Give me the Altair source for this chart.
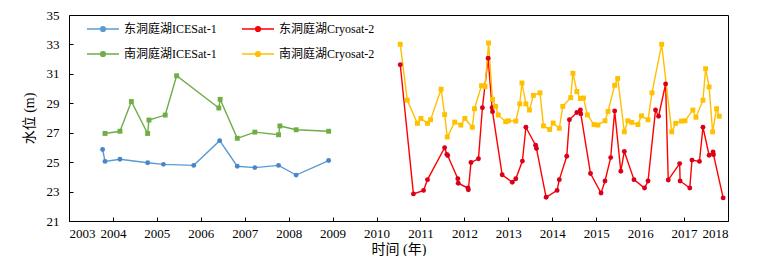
import altair as alt
import pandas as pd

# ---- data (decimal year, water level m) ----
east_ice_t = [2003.765, 2003.82, 2004.16, 2004.79, 2005.15, 2005.84, 2006.43, 2006.83, 2007.23, 2007.77, 2008.17, 2008.91]
east_ice_v = [25.86, 25.05, 25.20, 24.96, 24.85, 24.78, 26.46, 24.72, 24.63, 24.78, 24.12, 25.11]

south_ice_t = [2003.82, 2004.16, 2004.42, 2004.79, 2004.82, 2005.19, 2005.45, 2006.41, 2006.44, 2006.83, 2007.23, 2007.77, 2007.80, 2008.17, 2008.91]
south_ice_v = [26.95, 27.10, 29.12, 26.95, 27.86, 28.20, 30.87, 28.68, 29.27, 26.62, 27.04, 26.86, 27.46, 27.20, 27.10]

east_cs_t = [2010.54, 2010.84, 2011.07, 2011.16, 2011.55, 2011.60, 2011.62, 2011.85, 2011.86, 2012.08, 2012.09,
             2012.15, 2012.32, 2012.41, 2012.54, 2012.63, 2012.64, 2012.86, 2013.09, 2013.17, 2013.32, 2013.40,
             2013.62, 2013.64, 2013.86, 2014.11, 2014.16, 2014.33, 2014.39, 2014.56, 2014.64, 2014.65, 2014.87,
             2015.11, 2015.20, 2015.33, 2015.42, 2015.56, 2015.64, 2015.86, 2016.10, 2016.18, 2016.35, 2016.42,
             2016.58, 2016.64, 2016.90, 2016.91, 2017.13, 2017.18, 2017.35, 2017.43, 2017.57, 2017.66, 2017.67, 2017.89]
east_cs_v = [31.62, 22.84, 23.08, 23.81, 25.98, 25.53, 25.45, 23.87, 23.57, 23.24, 23.12,
             24.98, 25.23, 28.70, 32.06, 28.70, 28.43, 24.14, 23.63, 23.87, 25.07, 27.37,
             26.15, 25.93, 22.61, 23.08, 23.81, 25.40, 27.88, 28.37, 28.54, 28.28, 24.23,
             22.90, 23.72, 25.31, 28.48, 24.38, 25.73, 23.81, 23.24, 23.72, 28.54, 28.12,
             30.31, 23.79, 24.90, 23.72, 23.24, 25.14, 25.05, 27.37, 25.47, 25.69, 25.51, 22.57]

south_cs_t = [2010.54, 2010.70, 2010.93, 2011.01, 2011.16, 2011.23, 2011.47, 2011.55, 2011.61, 2011.78, 2011.92,
              2012.01, 2012.18, 2012.23, 2012.39, 2012.47, 2012.55, 2012.64, 2012.71, 2012.77, 2012.94, 2013.00,
              2013.17, 2013.26, 2013.31, 2013.40, 2013.48, 2013.57, 2013.72, 2013.80, 2013.94, 2014.02, 2014.16,
              2014.24, 2014.42, 2014.47, 2014.56, 2014.64, 2014.71, 2014.80, 2014.95, 2015.04, 2015.20, 2015.27,
              2015.42, 2015.49, 2015.64, 2015.72, 2015.81, 2015.95, 2016.03, 2016.18, 2016.27, 2016.49, 2016.72,
              2016.81, 2016.94, 2017.02, 2017.20, 2017.27, 2017.43, 2017.49, 2017.57, 2017.65, 2017.74, 2017.80]
south_cs_v = [33.01, 29.21, 27.64, 27.97, 27.64, 27.88, 29.96, 28.23, 26.71, 27.72, 27.52,
              27.97, 27.37, 28.63, 30.20, 30.14, 33.10, 29.27, 28.79, 28.21, 27.75, 27.81,
              27.79, 28.96, 30.38, 28.96, 28.54, 29.54, 29.71, 27.46, 27.22, 27.66, 27.30,
              28.79, 29.38, 31.04, 29.80, 29.32, 29.36, 28.21, 27.55, 27.52, 27.81, 28.45,
              30.22, 30.69, 27.06, 27.81, 27.70, 27.55, 28.15, 27.88, 29.71, 33.01, 27.06,
              27.64, 27.79, 27.81, 28.54, 28.05, 29.21, 31.35, 30.11, 27.06, 28.63, 28.12]

# legend is laid out column by column: column 1 = ICESat-1, column 2 = Cryosat-2
series_names = ["东洞庭湖ICESat-1", "南洞庭湖ICESat-1", "东洞庭湖Cryosat-2", "南洞庭湖Cryosat-2"]
line_colors = ["#5B9BD5", "#70AD47", "#FF0000", "#FFC000"]
point_colors = ["#4A86C5", "#70AD47", "#D9001B", "#FFC000"]
point_shapes = ["circle", "square", "circle", "square"]
year_ticks = list(range(2003, 2019))
level_ticks = list(range(21, 36, 2))

frames = []
for name, t, v in [
    ("东洞庭湖ICESat-1", east_ice_t, east_ice_v),
    ("东洞庭湖Cryosat-2", east_cs_t, east_cs_v),
    ("南洞庭湖ICESat-1", south_ice_t, south_ice_v),
    ("南洞庭湖Cryosat-2", south_cs_t, south_cs_v),
]:
    frames.append(pd.DataFrame({"series": name, "year": t, "level": v, "order": range(len(t))}))
df = pd.concat(frames, ignore_index=True)

FONT = "Liberation Serif, Noto Sans CJK SC"

x = alt.X("year:Q",
          scale=alt.Scale(domain=[2003, 2018], nice=False, zero=False),
          axis=alt.Axis(values=year_ticks, format="d", title="时间 (年)", grid=False,
                        domain=False, offset=-4, tickSize=4, labelPadding=6,
                        labelFontSize=13, titleFontSize=14, titlePadding=2,
                        labelColor="black", titleColor="black", tickColor="black",
                        labelFont=FONT, titleFont=FONT, titleFontWeight="normal"))
y = alt.Y("level:Q",
          scale=alt.Scale(domain=[21, 35], nice=False, zero=False),
          axis=alt.Axis(values=level_ticks, title="水位 (m)", grid=False,
                        domain=False, offset=-4, tickSize=4, labelPadding=10,
                        labelFontSize=13, titleFontSize=14, titlePadding=10,
                        labelColor="black", titleColor="black", tickColor="black",
                        labelFont=FONT, titleFont=FONT, titleFontWeight="normal"))

legend_path = ("M-2,0H2"
               "M-0.3,0a0.3,0.3 0 1,0 0.6,0a0.3,0.3 0 1,0 -0.6,0"
               "M-0.17,0a0.17,0.17 0 1,0 0.34,0a0.17,0.17 0 1,0 -0.34,0"
               "M-0.06,0a0.06,0.06 0 1,0 0.12,0a0.06,0.06 0 1,0 -0.12,0")

lines = alt.Chart(df).mark_line(strokeWidth=1.4).encode(
    x=x, y=y,
    order="order:Q",
    color=alt.Color("series:N",
                    scale=alt.Scale(domain=series_names, range=line_colors),
                    sort=series_names,
                    legend=alt.Legend(title=None, orient="none", legendX=25, legendY=5,
                                      columns=2, columnPadding=22, rowPadding=10,
                                      symbolType=legend_path, symbolSize=256,
                                      symbolStrokeWidth=1.4, labelOffset=12,
                                      labelFontSize=12, labelFont=FONT, labelColor="black",
                                      padding=0)),
)

points = alt.Chart(df).mark_point(filled=True, size=24, opacity=1).encode(
    x=x, y=y,
    color=alt.Color("series:N",
                    scale=alt.Scale(domain=series_names, range=point_colors),
                    legend=None),
    shape=alt.Shape("series:N",
                    scale=alt.Scale(domain=series_names, range=point_shapes),
                    legend=None),
)

chart = alt.layer(lines, points).resolve_scale(color="independent").properties(
    width=659, height=206,
    autosize=alt.AutoSizeParams(type="none"),
    padding={"left": 61, "top": 7, "right": 25, "bottom": 35},
    background="white",
).configure_view(stroke="black", strokeWidth=1)

chart.save("out.html", embed_options={"renderer": "svg", "actions": False})
